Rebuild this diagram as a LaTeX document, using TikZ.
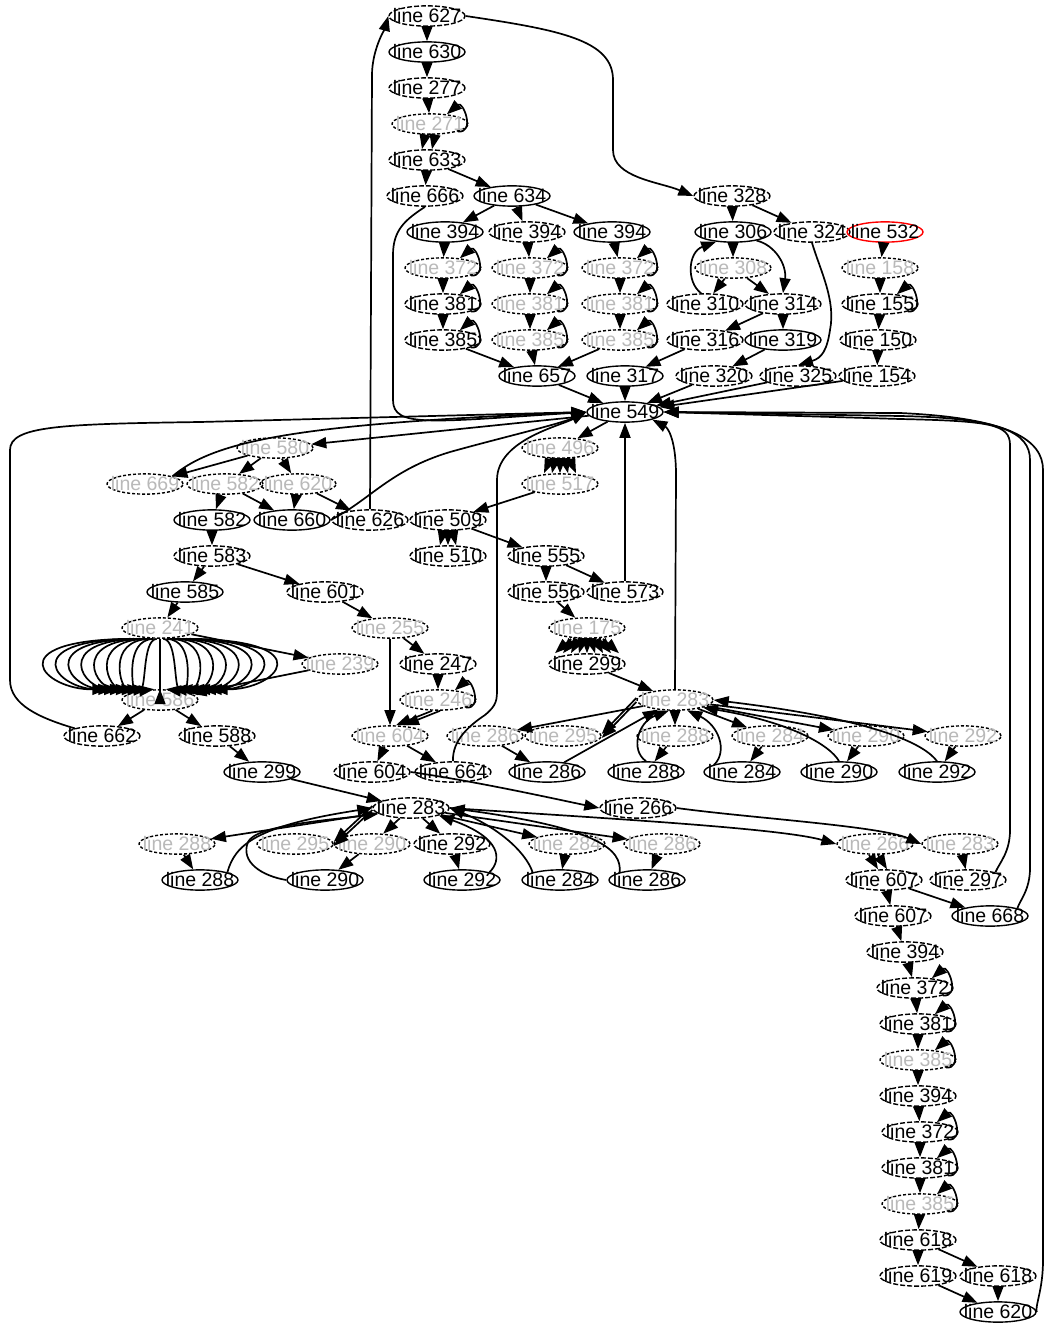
\documentclass[tikz,border=0pt]{standalone}
\usepackage{fontspec}
\setmainfont{Liberation Sans}
\usetikzlibrary{shapes.geometric,arrows.meta}
\newcommand\gn[4]{\node[#1] (#2) at (#3) {\makebox[0pt]{line #4}};}
\newcommand\sloop[1]{\draw[edge] (#1.-15) .. controls +(18,2) and +(16,-14) .. (#1.30);}
\begin{document}
\begin{tikzpicture}[x=1pt,y=-1pt,
 nd/.style={ellipse,draw,line width=1.4pt,minimum width=76pt,minimum height=20pt,inner sep=0pt,font=\fontsize{19.5}{20}\selectfont},
 dsh/.style={nd,dash pattern=on 5pt off 2pt},
 gh/.style={nd,dash pattern=on 3pt off 2pt,text=gray!55},
 rd/.style={nd,draw=red},
 edge/.style={line width=1.7pt,-{Triangle[length=15pt,width=11pt]}}]
\useasboundingbox[fill=white] (0,0) rectangle (1044,1324);
% nodes
\gn{dsh}{a627}{427,16}{627}
\gn{nd}{a630}{427,52}{630}
\gn{dsh}{a277}{427,88}{277}
\gn{gh}{a271}{430,124}{271}
\gn{dsh}{a633}{427,160}{633}
\gn{dsh}{a666}{425,196}{666}
\gn{nd}{a634}{512,196}{634}
\gn{dsh}{b328}{732,196}{328}
\gn{nd}{c394a}{445,232}{394}
\gn{dsh}{c394b}{527,232}{394}
\gn{nd}{c394c}{612,232}{394}
\gn{gh}{c372a}{443,268}{372}
\gn{gh}{c372b}{530,268}{372}
\gn{gh}{c372c}{620,268}{372}
\gn{dsh}{c381a}{443,304}{381}
\gn{gh}{c381b}{530,304}{381}
\gn{gh}{c381c}{620,304}{381}
\gn{dsh}{c385a}{443,340}{385}
\gn{gh}{c385b}{530,340}{385}
\gn{gh}{c385c}{620,340}{385}
\gn{nd}{b306}{733,232}{306}
\gn{dsh}{b324}{812,232}{324}
\gn{rd}{r532}{885,232}{532}
\gn{gh}{b308}{733,268}{308}
\gn{gh}{r158}{880,268}{158}
\gn{dsh}{b310}{705,304}{310}
\gn{dsh}{b314}{783,304}{314}
\gn{dsh}{r155}{880,304}{155}
\gn{dsh}{b316}{705,340}{316}
\gn{nd}{b319}{783,340}{319}
\gn{dsh}{r150}{878,340}{150}
\gn{nd}{c657}{537,376}{657}
\gn{nd}{b317}{625,376}{317}
\gn{dsh}{b320}{714,376}{320}
\gn{dsh}{b325}{798,376}{325}
\gn{dsh}{r154}{877,376}{154}
\gn{nd}{m549}{625,412}{549}
\gn{gh}{d580}{275,448}{580}
\gn{gh}{e496}{560,448}{496}
\gn{gh}{d669}{145,484}{669}
\gn{gh}{d582a}{225,484}{582}
\gn{gh}{d620}{298,484}{620}
\gn{gh}{e517}{560,484}{517}
\gn{nd}{d582b}{212,520}{582}
\gn{nd}{d660}{292,520}{660}
\gn{dsh}{d626}{370,520}{626}
\gn{dsh}{e509}{448,520}{509}
\gn{dsh}{d583}{212,556}{583}
\gn{dsh}{e510}{448,556}{510}
\gn{dsh}{e555}{546,556}{555}
\gn{nd}{d585}{185,592}{585}
\gn{dsh}{d601}{325,592}{601}
\gn{dsh}{e556}{546,592}{556}
\gn{dsh}{e573}{625,592}{573}
\gn{gh}{f241}{160,628}{241}
\gn{gh}{g255}{390,628}{255}
\gn{gh}{e175}{587,628}{175}
\gn{gh}{f239}{340,664}{239}
\gn{dsh}{g247}{438,664}{247}
\gn{dsh}{e299}{587,664}{299}
\gn{gh}{f586}{160,700}{586}
\gn{gh}{g246}{438,700}{246}
\gn{gh}{h283}{675,700}{283}
\gn{dsh}{f662}{102,736}{662}
\gn{dsh}{f588}{217,736}{588}
\gn{gh}{g604a}{390,736}{604}
\gn{gh}{h286a}{485,736}{286}
\gn{gh}{h295a}{563,736}{295}
\gn{gh}{h288a}{675,736}{288}
\gn{gh}{h284a}{770,736}{284}
\gn{gh}{h290a}{866,736}{290}
\gn{gh}{h292a}{963,736}{292}
\gn{nd}{f299}{262,772}{299}
\gn{dsh}{g604b}{372,772}{604}
\gn{dsh}{g664}{453,772}{664}
\gn{nd}{h286b}{547,772}{286}
\gn{nd}{h288b}{646,772}{288}
\gn{nd}{h284b}{742,772}{284}
\gn{nd}{h290b}{839,772}{290}
\gn{nd}{h292b}{937,772}{292}
\gn{dsh}{i283}{411,808}{283}
\gn{dsh}{i266}{638,808}{266}
\gn{gh}{i288a}{177,844}{288}
\gn{gh}{i295a}{295,844}{295}
\gn{gh}{i290a}{372,844}{290}
\gn{dsh}{i292a}{452,844}{292}
\gn{gh}{i284a}{567,844}{284}
\gn{gh}{i286a}{662,844}{286}
\gn{gh}{j266}{875,844}{266}
\gn{gh}{j283}{960,844}{283}
\gn{nd}{i288b}{200,880}{288}
\gn{nd}{i290b}{325,880}{290}
\gn{nd}{i292b}{462,880}{292}
\gn{nd}{i284b}{560,880}{284}
\gn{nd}{i286b}{647,880}{286}
\gn{dsh}{j607a}{884,880}{607}
\gn{dsh}{j297}{968,880}{297}
\gn{dsh}{j607b}{893,916}{607}
\gn{nd}{j668}{990,916}{668}
\gn{dsh}{k394a}{905,952}{394}
\gn{dsh}{k372a}{915,988}{372}
\gn{dsh}{k381a}{918,1024}{381}
\gn{gh}{k385a}{918,1060}{385}
\gn{dsh}{k394b}{918,1096}{394}
\gn{dsh}{k372b}{920,1132}{372}
\gn{dsh}{k381b}{920,1168}{381}
\gn{gh}{k385b}{920,1204}{385}
\gn{dsh}{k618a}{918,1240}{618}
\gn{dsh}{k619}{918,1276}{619}
\gn{dsh}{k618b}{998,1276}{618}
\gn{nd}{k620}{998,1312}{620}
% top chain
\draw[edge] (a627) -- (a630);
\draw[edge] (a630) -- (a277);
\draw[edge] (a277) -- (a271);
\sloop{a271}
\draw[edge] ([xshift=-5]a271.south) -- ([xshift=-5]a633.north);
\draw[edge] ([xshift=5]a271.south) -- ([xshift=5]a633.north);
\draw[edge] (a633) -- (a666);
\draw[edge] (a633) -- (a634);
\draw[edge] (a627.east) .. controls (560,30) and (613,40) .. (613,80) -- (613,150) .. controls (613,178) and (660,182) .. (b328.west);
\draw[edge] (a634) -- (c394a);
\draw[edge] (a634) -- (c394b);
\draw[edge] (a634) -- (c394c);
\foreach \s in {a,b,c}{
 \draw[edge] (c394\s) -- (c372\s);
 \draw[edge] (c372\s) -- (c381\s);
 \draw[edge] (c381\s) -- (c385\s);
 \draw[edge] (c385\s) -- (c657);
 \sloop{c372\s}
 \sloop{c381\s}
 \sloop{c385\s}
}
\draw[edge] (c657) -- (m549);
\draw[edge] (a666.south) .. controls (405,220) and (393,230) .. (393,255) -- (393,400) .. controls (393,428) and (430,422) .. (m549.west);
% right upper cluster
\draw[edge] (b328) -- (b306);
\draw[edge] (b328) -- (b324);
\draw[edge] (b306) -- (b308);
\draw[edge] (b306.-20) .. controls (775,245) and (787,265) .. (b314.north);
\draw[edge] (b308) -- (b310);
\draw[edge] (b308) -- (b314);
\draw[edge] (b310.110) .. controls (686,282) and (688,252) .. (b306.-150);
\draw[edge] (b314) -- (b316);
\draw[edge] (b314) -- (b319);
\draw[edge] (b316) -- (b317);
\draw[edge] (b319) -- (b320);
\draw[edge] (b324.south) .. controls (820,270) and (836,300) .. (830,330) .. controls (827,350) and (822,358) .. (b325.north);
\draw[edge] (b317) -- (m549);
\draw[edge] (b320) -- (m549);
\draw[edge] (b325) -- (m549);
\draw[edge] (r154) -- (m549);
\draw[edge] (r532) -- (r158);
\draw[edge] (r158) -- (r155);
\sloop{r155}
\draw[edge] (r155) -- (r150);
\draw[edge] (r150) -- (r154);
% 549 outgoing
\draw[edge] (m549) -- (d580);
\draw[edge] (m549) -- (e496);
\draw[edge] (d580) -- (d669);
\draw[edge] (d580) -- (d582a);
\draw[edge] (d580) -- (d620);
\draw[edge] (d582a) -- (d582b);
\draw[edge] (d582a) -- (d660);
\draw[edge] (d620) -- (d660);
\draw[edge] (d620) -- (d626);
\draw[edge] (d669.north east) .. controls (215,440) and (300,424) .. (m549.west);
\draw[edge] (d660.east) .. controls (370,500) and (390,470) .. (450,452) .. controls (500,438) and (560,424) .. (m549.west);
\draw[edge] (d626.north) -- (372,75) .. controls (372,50) and (385,28) .. (a627.west);
\foreach \d in {-16,-8,...,16}{\draw[edge] ([xshift=\d*0.6]e496.south) -- ([xshift=\d]e517.north);}
\draw[edge] (e517) -- (e509);
\foreach \d in {-8,0,8}{\draw[edge] ([xshift=\d*0.6]e509.south) -- ([xshift=\d]e510.north);}
\draw[edge] (e509) -- (e555);
\draw[edge] (e555) -- (e556);
\draw[edge] (e555) -- (e573);
\draw[edge] (e573) -- (m549);
\draw[edge] (e556) -- (e175);
\foreach \d in {-32,-24,...,32}{\draw[edge] ([xshift=\d*0.5]e175.south) -- ([xshift=\d]e299.north);}
\draw[edge] (e299) -- (h283);
% left cluster
\draw[edge] (d582b) -- (d583);
\draw[edge] (d583) -- (d585);
\draw[edge] (d583) -- (d601);
\draw[edge] (d585) -- (f241);
\foreach \d in {-117,-104,...,117}{\draw[edge] ([xshift=\d*0.25]f241.south) .. controls (160+\d*1.4,640) and (160+\d*1.0,690) .. ([xshift=\d*0.45]f586.north);}
\draw[edge] (f241) -- (f239);
\draw[edge] (f239) -- (f586);
\draw[edge] (f586) -- (f662);
\draw[edge] (f586) -- (f588);
\draw[edge] (f588) -- (f299);
\draw[edge] (f299) -- (i283);
\draw[edge] (f662.north west) .. controls (40,718) and (10,705) .. (10,680) -- (10,450) .. controls (10,426) and (60,424) .. (200,422) -- (m549.west);
% middle cluster
\draw[edge] (d601) -- (g255);
\draw[edge] (g255) -- (g247);
\draw[edge] (g255) -- (g604a);
\draw[edge] (g247) -- (g246);
\sloop{g246}
\draw[edge] ([xshift=-6]g246.south) -- ([xshift=6]g604a.north);
\draw[edge] ([xshift=2]g246.south) -- ([xshift=14]g604a.north);
\draw[edge] (g604a) -- (g604b);
\draw[edge] (g604a) -- (g664);
\draw[edge] (g664.north) .. controls (452,740) and (470,725) .. (485,715) .. controls (497,705) and (497,700) .. (497,688) -- (497,480) .. controls (497,440) and (560,426) .. (m549.west);
\draw[edge] (g604b.east) .. controls (480,782) and (560,800) .. (i266.west);
% 283 upper cluster
\draw[edge] (h283) -- (h286a);
\draw[edge] ([yshift=-2]h283.west) -- ([yshift=-2]h295a.east);
\draw[edge] ([yshift=2]h283.west) -- ([yshift=2]h295a.east);
\draw[edge] (h283) -- (h288a);
\draw[edge] (h283) -- (h284a);
\draw[edge] (h283) -- (h290a);
\draw[edge] (h283) -- (h292a);
\draw[edge] (h286a) -- (h286b);
\draw[edge] (h288a) -- (h288b);
\draw[edge] (h284a) -- (h284b);
\draw[edge] (h290a) -- (h290b);
\draw[edge] (h292a) -- (h292b);
\draw[edge] (h286b) -- (h283);
\draw[edge] (h288b.north) .. controls (630,750) and (638,722) .. (h283.-120);
\draw[edge] (h284b.north west) .. controls (728,750) and (718,725) .. (h283.-40);
\draw[edge] (h290b.north) .. controls (830,745) and (790,722) .. (h283.-15);
\draw[edge] (h292b.north) .. controls (925,745) and (880,720) .. (h283.east);
\draw[edge] (h283.north) -- (676,475) .. controls (676,440) and (668,428) .. (m549.south east);
% 283 lower cluster
\draw[edge] (i283) -- (i288a);
\draw[edge] ([yshift=-2]i283.west) -- ([yshift=-2]i295a.east);
\draw[edge] ([yshift=2]i283.west) -- ([yshift=2]i295a.east);
\draw[edge] (i283) -- (i290a);
\draw[edge] (i283) -- (i292a);
\draw[edge] (i283) -- (i284a);
\draw[edge] (i283) -- (i286a);
\draw[edge] (i288a) -- (i288b);
\draw[edge] (i290a) -- (i290b);
\draw[edge] (i292a) -- (i292b);
\draw[edge] (i284a) -- (i284b);
\draw[edge] (i286a) -- (i286b);
\draw[edge] (i288b.north east) .. controls (235,845) and (255,826) .. (i283.west);
\draw[edge] (i290b.west) .. controls (262,876) and (240,862) .. (248,842) .. controls (256,825) and (330,820) .. (i283.-170);
\draw[edge] (i292b.north east) .. controls (502,860) and (502,838) .. (i283.-15);
\draw[edge] (i284b.north west) .. controls (525,850) and (495,826) .. (i283.east);
\draw[edge] (i286b.north west) .. controls (622,850) and (600,828) .. (i283.east);
\draw[edge] (i283.east) .. controls (600,818) and (780,828) .. (j266.west);
\draw[edge] (i266.east) .. controls (750,818) and (880,826) .. (j283.west);
% right lower
\draw[edge] ([xshift=-6]j266.south) -- ([xshift=-6]j607a.north);
\draw[edge] ([xshift=3]j266.south) -- ([xshift=3]j607a.north);
\draw[edge] (j283) -- (j297);
\draw[edge] (j607a) -- (j607b);
\draw[edge] (j607a) -- (j668);
\draw[edge] (j297.north east) .. controls (1000,862) and (1010,852) .. (1010,830) -- (1010,445) .. controls (1010,424) and (990,421) .. (900,419) -- (m549.east);
\draw[edge] (j668.north east) .. controls (1020,900) and (1030,890) .. (1030,868) -- (1030,460) .. controls (1030,432) and (1000,418) .. (900,416) -- (m549.east);
\draw[edge] (k620.east) .. controls (1035,1305) and (1043,1290) .. (1043,1260) -- (1043,470) .. controls (1043,440) and (1010,418) .. (900,413) -- (m549.east);
\draw[edge] (j607b) -- (k394a);
\draw[edge] (k394a) -- (k372a);
\draw[edge] (k372a) -- (k381a);
\draw[edge] (k381a) -- (k385a);
\draw[edge] (k385a) -- (k394b);
\draw[edge] (k394b) -- (k372b);
\draw[edge] (k372b) -- (k381b);
\draw[edge] (k381b) -- (k385b);
\draw[edge] (k385b) -- (k618a);
\foreach \n in {k372a,k381a,k385a,k372b,k381b,k385b}{\sloop{\n}}
\draw[edge] (k618a) -- (k619);
\draw[edge] (k618a) -- (k618b);
\draw[edge] (k619) -- (k620);
\draw[edge] (k618b) -- (k620);
\end{tikzpicture}
\end{document}
